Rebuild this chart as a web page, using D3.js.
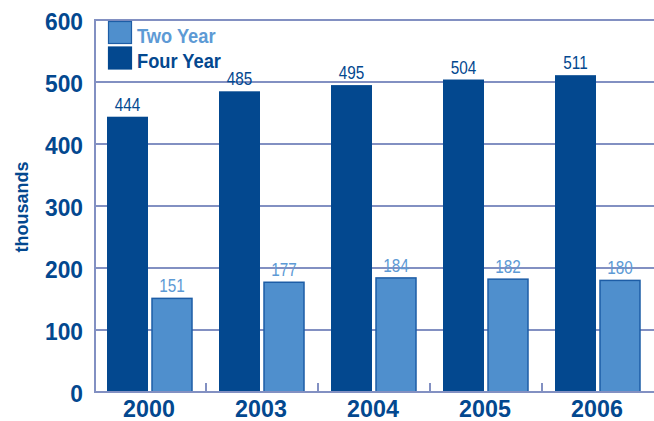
<!DOCTYPE html>
<html>
<head>
<meta charset="utf-8">
<script src="https://cdn.jsdelivr.net/npm/d3@7"></script>
<style>
  html, body { margin: 0; padding: 0; background: #fff; }
  svg { display: block; }
  text { font-family: "Liberation Sans Narrow", "Arial Narrow", "Liberation Sans", Arial, sans-serif; }
</style>
</head>
<body>
<svg id="chart" width="654" height="421"></svg>
<script>
// Enrollment by institution type, in thousands
const years = ["2000", "2003", "2004", "2005", "2006"];
const fourYear = [444, 485, 495, 504, 511];
const twoYear = [151, 177, 184, 182, 180];
const yTicks = [0, 100, 200, 300, 400, 500, 600];
const seriesNames = ["Two Year", "Four Year"];

const darkBlue = "#03488f";
const lightBlue = "#4f8fcd";
const lightLabel = "#5d9ad5";
const lightStroke = "#1d5da6";
const gridColor = "#8290c2";

const svg = d3.select("#chart");
const margin = { left: 95, right: 0, top: 20, bottom: 29 };
const W = 654, H = 421;

const x = d3.scaleBand()
  .domain(years)
  .range([margin.left, W - margin.right + 1])
  .paddingInner(0).paddingOuter(0);

const y = d3.scaleLinear()
  .domain([0, 600])
  .range([H - margin.bottom, margin.top]);

// condensed text: anchor at (px, py), squeezed horizontally
function narrowText(sel, px, py, sx) {
  return sel.attr("transform", (d, i) => `translate(${px(d, i)},${py(d, i)}) scale(${sx},1)`);
}

// horizontal gridlines
svg.append("g")
  .selectAll("line")
  .data(yTicks.filter(d => d > 0))
  .join("line")
  .attr("x1", margin.left).attr("x2", W)
  .attr("y1", d => y(d)).attr("y2", d => y(d))
  .attr("stroke", gridColor).attr("stroke-width", 2);

// y-axis tick labels
narrowText(
  svg.append("g").selectAll("text").data(yTicks).join("text"),
  () => margin.left - 12, d => y(d) + 10, 0.95)
  .attr("text-anchor", "end")
  .attr("font-size", 24)
  .attr("font-weight", "bold")
  .attr("fill", darkBlue)
  .text(d => d);

// y-axis title
svg.append("text")
  .attr("transform", `translate(28,${207}) rotate(-90)`)
  .attr("text-anchor", "middle")
  .attr("font-size", 18)
  .attr("font-weight", "bold")
  .attr("fill", darkBlue)
  .text("thousands");

// bar geometry within each band
const bw = x.bandwidth();
const fourOffset = 12, fourWidth = 41;
const twoOffset = 57, twoWidth = 40;

const groups = svg.append("g")
  .selectAll("g")
  .data(years)
  .join("g")
  .attr("transform", d => `translate(${x(d)},0)`);

groups.append("rect")
  .attr("x", fourOffset)
  .attr("width", fourWidth)
  .attr("y", (d, i) => y(fourYear[i]))
  .attr("height", (d, i) => y(0) - y(fourYear[i]))
  .attr("fill", darkBlue);

groups.append("rect")
  .attr("x", twoOffset)
  .attr("width", twoWidth)
  .attr("y", (d, i) => y(twoYear[i]))
  .attr("height", (d, i) => y(0) - y(twoYear[i]))
  .attr("fill", lightBlue)
  .attr("stroke", lightStroke)
  .attr("stroke-width", 1.5);

// value labels
narrowText(groups.append("text"),
  () => fourOffset + fourWidth / 2, (d, i) => y(fourYear[i]) - 6, 0.85)
  .attr("text-anchor", "middle")
  .attr("font-size", 18)
  .attr("fill", darkBlue)
  .text((d, i) => fourYear[i]);

narrowText(groups.append("text"),
  () => twoOffset + twoWidth / 2, (d, i) => y(twoYear[i]) - 6, 0.85)
  .attr("text-anchor", "middle")
  .attr("font-size", 18)
  .attr("fill", lightLabel)
  .text((d, i) => twoYear[i]);

// x-axis baseline, left axis line and separator ticks
const axis = svg.append("g").attr("stroke", gridColor).attr("stroke-width", 2);
axis.append("line")
  .attr("x1", margin.left).attr("x2", W)
  .attr("y1", y(0)).attr("y2", y(0));
axis.append("line")
  .attr("x1", margin.left).attr("x2", margin.left)
  .attr("y1", y(600) - 1).attr("y2", y(0) + 1);
axis.selectAll("line.sep")
  .data(years.slice(1))
  .join("line")
  .attr("class", "sep")
  .attr("x1", d => x(d) - 1).attr("x2", d => x(d) - 1)
  .attr("y1", y(0) - 9).attr("y2", y(0));

// x-axis category labels
narrowText(
  svg.append("g").selectAll("text").data(years).join("text"),
  d => x(d) + bw / 2 - 2, () => y(0) + 24.5, 0.97)
  .attr("text-anchor", "middle")
  .attr("font-size", 24)
  .attr("font-weight", "bold")
  .attr("fill", darkBlue)
  .text(d => d);

// legend
const legend = svg.append("g").attr("transform", "translate(108,21)");
const legendColors = [lightBlue, darkBlue];
const legendText = [lightLabel, darkBlue];
const legendStrokes = [lightStroke, darkBlue];
seriesNames.forEach((name, i) => {
  const row = legend.append("g").attr("transform", `translate(0,${i * 25.5})`);
  row.append("rect")
    .attr("x", 0.5).attr("y", 0.5)
    .attr("width", 23).attr("height", 22)
    .attr("fill", legendColors[i])
    .attr("stroke", legendStrokes[i])
    .attr("stroke-width", 1.2);
  row.append("text")
    .attr("transform", "translate(29,21.5) scale(0.87,1)")
    .attr("font-size", 21)
    .attr("font-weight", "bold")
    .attr("fill", legendText[i])
    .text(name);
});
</script>
</body>
</html>
